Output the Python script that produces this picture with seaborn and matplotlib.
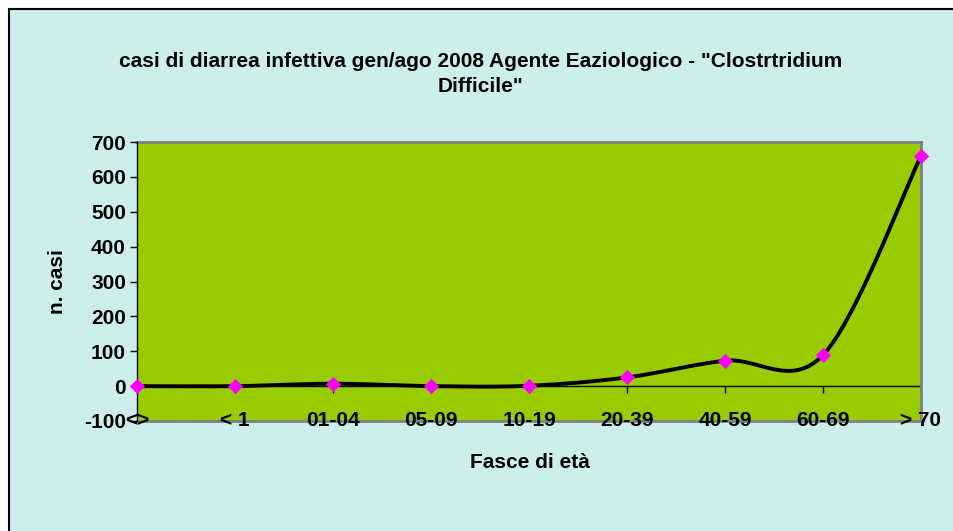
import numpy as np
import pandas as pd
import seaborn as sns
import matplotlib.pyplot as plt
from matplotlib.lines import Line2D

sns.set_theme(style="white")
plt.rcParams["font.family"] = ["Liberation Sans", "DejaVu Sans"]
plt.rcParams["axes.unicode_minus"] = False

# data
fasce = ["<>", "< 1", "01-04", "05-09", "10-19", "20-39", "40-59", "60-69", "> 70"]
casi = [0, 0, 7, 0, 1, 25, 73, 89, 660]

bg = "#CCEFEE"
plot_bg = "#99CC00"
fs = 15

fig = plt.figure(figsize=(9.54, 5.31), dpi=100, facecolor="white")
# chart box, cropped at right/bottom: border only on left and top
x0, y0 = 9 / 954, 1 - 9 / 531
fig.patches.append(plt.Rectangle((x0, 0), 1, y0, transform=fig.transFigure,
                                 facecolor=bg, edgecolor="none", zorder=-10))
fig.lines.append(Line2D([x0, x0], [0, y0], transform=fig.transFigure, color="black", lw=1.5))
fig.lines.append(Line2D([x0, 1], [y0, y0], transform=fig.transFigure, color="black", lw=1.5))

ax = fig.add_axes([137 / 954, 1 - 421 / 531, (921 - 137) / 954, (421 - 142) / 531])
ax.set_facecolor(plot_bg)

xs = np.arange(len(fasce), dtype=float)
ys = np.array(casi, dtype=float)

# Excel-style smoothed line (Bezier through the points)
px = np.concatenate([[xs[0]], xs, [xs[-1]]])
py = np.concatenate([[ys[0]], ys, [ys[-1]]])
cx, cy = [], []
t = np.linspace(0, 1, 40)
for i in range(1, len(px) - 2):
    p0 = np.array([px[i], py[i]])
    p3 = np.array([px[i + 1], py[i + 1]])
    p1 = p0 + (np.array([px[i + 1], py[i + 1]]) - np.array([px[i - 1], py[i - 1]])) / 6
    p2 = p3 - (np.array([px[i + 2], py[i + 2]]) - np.array([px[i], py[i]])) / 6
    b = ((1 - t) ** 3)[:, None] * p0 + (3 * (1 - t) ** 2 * t)[:, None] * p1 \
        + (3 * (1 - t) * t ** 2)[:, None] * p2 + (t ** 3)[:, None] * p3
    cx.extend(b[:, 0])
    cy.extend(b[:, 1])
curve = pd.DataFrame({"x": cx, "y": cy})
sns.lineplot(data=curve, x="x", y="y", sort=False, color="black", linewidth=2.8,
             ax=ax, zorder=3, clip_on=False)

pts = pd.DataFrame({"x": xs, "y": ys})
sns.scatterplot(data=pts, x="x", y="y", marker="D", s=60, color="#FF00FF",
                edgecolor="#FF00FF", linewidth=0, ax=ax, zorder=4, clip_on=False)

ax.set_xlim(0, len(fasce) - 1)
ax.set_ylim(-100, 700)
ax.set_yticks(range(-100, 701, 100))
ax.set_xticks(xs)
ax.set_xticklabels(fasce, fontsize=fs, fontweight="bold", color="black")
ax.tick_params(axis="x", length=0, pad=-7)
ax.tick_params(axis="y", direction="out", length=5, width=1, color="black",
               labelsize=fs, pad=3, left=True, labelcolor="black")
for lab in ax.get_yticklabels():
    lab.set_fontweight("bold")

for side in ["top", "right", "bottom"]:
    ax.spines[side].set_color("#808080")
    ax.spines[side].set_linewidth(2)
    ax.spines[side].set_zorder(0.5)
ax.spines["left"].set_color("black")
ax.spines["left"].set_linewidth(1)
ax.xaxis.set_zorder(5)

# category axis drawn at y = 0
sec = ax.secondary_xaxis(100 / 800)
sec.set_xticks(xs)
sec.set_xticklabels([])
sec.tick_params(axis="x", direction="out", length=5, width=1, color="black")
sec.spines["bottom"].set_color("black")
sec.spines["bottom"].set_linewidth(1)

ax.set_xlabel("")
ax.set_ylabel("")
fig.text(58 / 954, 1 - 282 / 531, "n. casi", rotation=90, ha="center", va="center",
         fontsize=fs, fontweight="bold", color="black")
fig.text(530 / 954, 1 - 462 / 531, "Fasce di età", ha="center", va="center",
         fontsize=fs, fontweight="bold", color="black")
fig.text(481 / 954, 1 - 74 / 531,
         "casi di diarrea infettiva gen/ago 2008 Agente Eaziologico - \"Clostrtridium\nDifficile\"",
         ha="center", va="center", fontsize=fs, fontweight="bold", linespacing=1.45,
         color="black")

fig.savefig("out.png", dpi=100, facecolor="white")
